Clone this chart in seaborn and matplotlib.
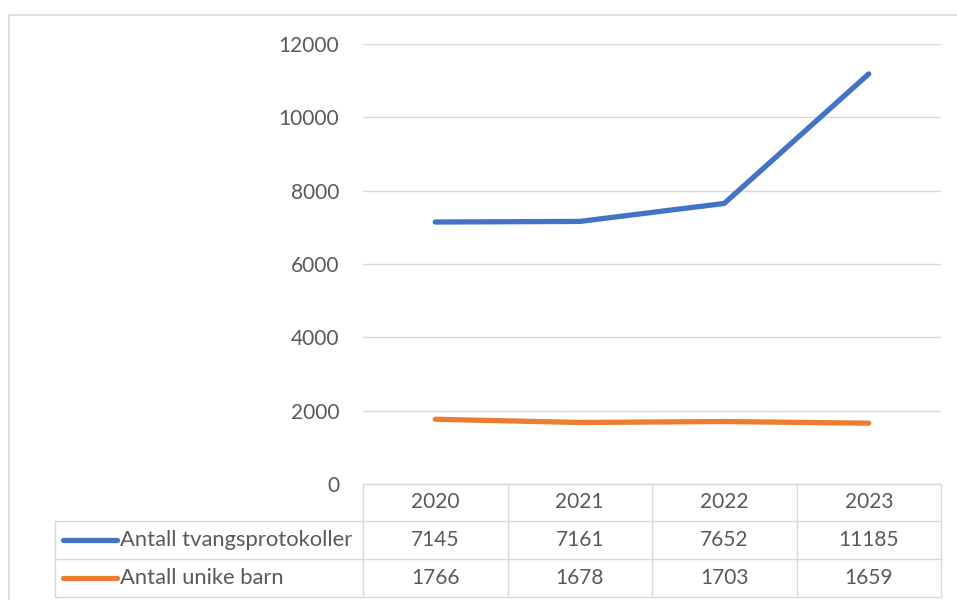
import pandas as pd
import matplotlib.pyplot as plt
import seaborn as sns
from matplotlib.patches import Rectangle

sns.set_style("white")
plt.rcParams['font.family'] = ['Lato', 'DejaVu Sans']

# Data
years = ["2020", "2021", "2022", "2023"]
series_names = ["Antall tvangsprotokoller", "Antall unike barn"]
protokoller = [7145, 7161, 7652, 11185]
unike_barn = [1766, 1678, 1703, 1659]
colors = ["#4472C4", "#ED7D31"]
yticks = [0, 2000, 4000, 6000, 8000, 10000, 12000]

df = pd.DataFrame({
    "year": years * 2,
    "x": list(range(len(years))) * 2,
    "value": protokoller + unike_barn,
    "series": [series_names[0]] * 4 + [series_names[1]] * 4,
})

W, H = 957, 600
FS = 15
fig = plt.figure(figsize=(W / 100, H / 100), dpi=100)
ax = fig.add_axes([363 / W, (H - 484) / H, (941 - 363) / W, (484 - 44) / H])

sns.lineplot(data=df, x="x", y="value", hue="series", palette=colors,
             linewidth=3.8, ax=ax, legend=False, solid_capstyle="round")

grid_c = "#d9d9d9"
text_c = "#595959"
ax.set_xlim(-0.5, len(years) - 0.5)
ax.set_ylim(0, 12000)
ax.set_yticks(yticks)
ax.set_yticklabels([str(v) for v in yticks], fontsize=FS, color=text_c)
ax.set_xticks([])
ax.tick_params(axis="y", length=0, pad=17)
ax.yaxis.grid(True, color=grid_c, linewidth=1)
ax.set_axisbelow(True)
for s in ax.spines.values():
    s.set_visible(False)
ax.set_xlabel("")
ax.set_ylabel("")

# Data table below the plot (x in data units, y in axes fraction)
tr = ax.get_xaxis_transform()
px = 1 / 440  # one pixel in axes fraction (vertical)
row_edges = [0, -37 * px, -75 * px, -113 * px]
left = -0.5 - 308 / 144.5
right = len(years) - 0.5
line_kw = dict(color=grid_c, linewidth=1, transform=tr, clip_on=False)

# header row
ax.plot([-0.5, right], [row_edges[0]] * 2, **line_kw)
for e in row_edges[1:]:
    ax.plot([left, right], [e] * 2, **line_kw)
for i in range(len(years) + 1):
    ax.plot([i - 0.5] * 2, [row_edges[0], row_edges[3]], **line_kw)
ax.plot([left] * 2, [row_edges[1], row_edges[3]], **line_kw)

for i, y in enumerate(years):
    ax.text(i, (row_edges[0] + row_edges[1]) / 2, y, transform=tr, ha="center",
            va="center", fontsize=FS, color=text_c, clip_on=False)

for r, (name, vals, c) in enumerate(zip(series_names, [protokoller, unike_barn], colors)):
    yc = (row_edges[r + 1] + row_edges[r + 2]) / 2
    ax.plot([left + 8 / 144.5, left + 62 / 144.5], [yc, yc], color=c, linewidth=3.8,
            transform=tr, clip_on=False, solid_capstyle="round")
    ax.text(left + 65 / 144.5, yc, name, transform=tr, ha="left", va="center",
            fontsize=15.8, color=text_c, clip_on=False)
    for i, v in enumerate(vals):
        ax.text(i, yc, str(v), transform=tr, ha="center", va="center",
                fontsize=FS, color=text_c, clip_on=False)

# Outer chart border
fig.patches.append(Rectangle((9 / W, -0.1), 1.2, (H - 15) / H + 0.1, transform=fig.transFigure,
                             fill=False, edgecolor=grid_c, linewidth=1.2))

plt.savefig("out.png", dpi=100)
